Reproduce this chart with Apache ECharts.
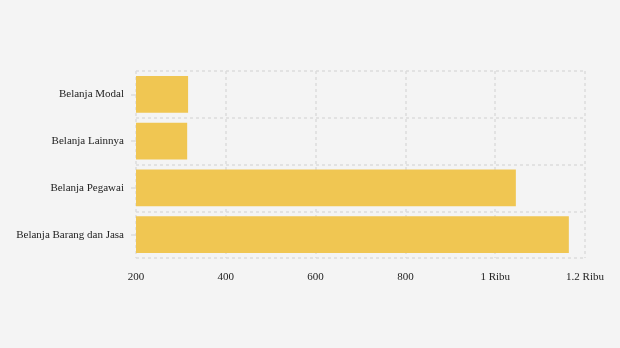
<!DOCTYPE html>
<html>
<head>
<meta charset="utf-8">
<script src="https://cdn.jsdelivr.net/npm/echarts@6/dist/echarts.min.js"></script>
<style>
html,body{margin:0;padding:0;background:#f4f4f4;}
#c{width:620px;height:348px;}
</style>
</head>
<body>
<div id="c"></div>
<script>
const categories = ['Belanja Barang dan Jasa', 'Belanja Pegawai', 'Belanja Lainnya', 'Belanja Modal'];
const values = [1164, 1046, 314, 316];
const xMin = 200, xMax = 1200, xInterval = 200;

const chart = echarts.init(document.getElementById('c'));
chart.setOption({
  backgroundColor: '#f4f4f4',
  animation: false,
  grid: { left: 136, right: 35, top: 71, bottom: 90, containLabel: false },
  xAxis: {
    type: 'value',
    min: xMin, max: xMax, interval: xInterval,
    axisLine: { show: false },
    axisTick: { show: false },
    axisLabel: {
      color: '#222', fontFamily: 'Liberation Serif', fontSize: 11, margin: 14,
      formatter: v => v >= 1000 ? (v / 1000) + ' Ribu' : String(v)
    },
    splitLine: { show: true, lineStyle: { color: '#dcdcdc', type: [3, 3], width: 1.5 } }
  },
  yAxis: {
    type: 'category',
    data: categories,
    axisLine: { show: false },
    axisTick: { show: true, alignWithLabel: true, length: 5, lineStyle: { color: '#dcdcdc', width: 1.5 } },
    axisLabel: { color: '#222', fontFamily: 'Liberation Serif', fontSize: 11, margin: 12 },
    splitLine: { show: true, lineStyle: { color: '#dcdcdc', type: [3, 3], width: 1.5 } }
  },
  series: [{
    type: 'bar',
    data: values,
    barCategoryGap: '21%',
    itemStyle: { color: '#f0c652' }
  }]
});
</script>
</body>
</html>
